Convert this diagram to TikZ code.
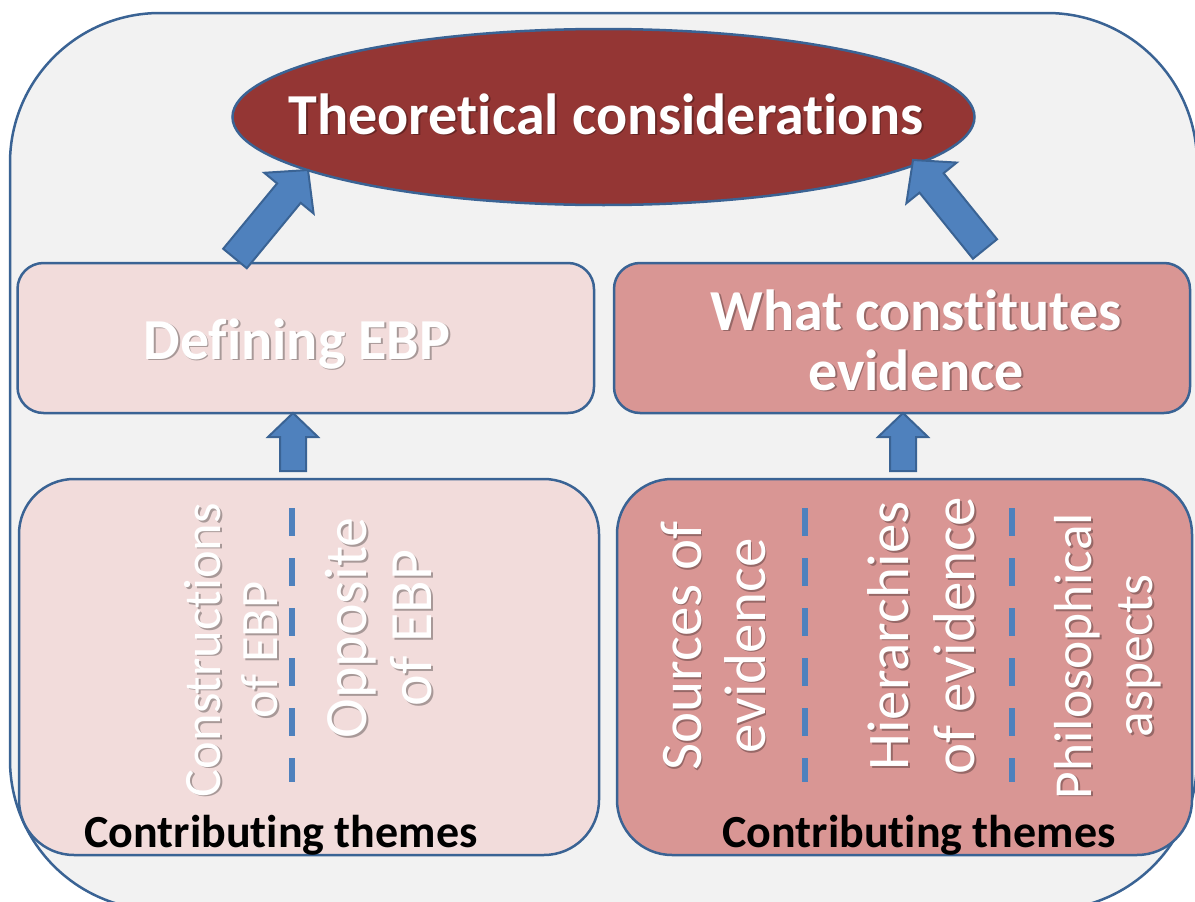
\documentclass[tikz,border=0pt]{standalone}
\usepackage{fontspec}
\setmainfont{Carlito}[Ligatures=NoCommon]
\usetikzlibrary{calc,shapes.geometric}

\definecolor{frame}{HTML}{3A6394}
\definecolor{panel}{HTML}{F2F2F2}
\definecolor{wine}{HTML}{943634}
\definecolor{blush}{HTML}{F2DCDB}
\definecolor{rose}{HTML}{D99694}
\definecolor{steel}{HTML}{4F81BD}

\tikzset{
  x=1pt, y=-1pt,
  outline/.style={draw=frame, line width=2.5pt},
  panelbox/.style={outline, fill=#1, rounded corners=26pt, inner sep=0pt},
  themebox/.style={outline, fill=#1, rounded corners=55pt, inner sep=0pt},
  blockarrow/.style={draw=frame, line width=2pt, fill=steel, line join=miter},
  divider/.style={draw=steel, line width=6pt, dash pattern=on 28pt off 22pt},
  headfont/.style={font=\fontsize{58}{60}\selectfont\bfseries, inner sep=0pt, align=center},
  themefont/.style 2 args={font=\fontsize{#1}{#2}\selectfont, inner sep=0pt, align=center, rotate=90},
  notefont/.style={font=\fontsize{46}{46}\selectfont\bfseries, inner sep=0pt, text=black},
}

% white label with a soft drop shadow
\newcommand\glowlabel[4][]{%
  \node[xshift=1.8pt, yshift=-1.8pt, #1, text=black, text opacity=0.3] (#2-shadow) at (#3) {#4};
  \node[#1, text=white] (#2) at (#3) {#4};
}

% block arrow: name, tail, tip, half shaft width, half head width, head length
\newcommand\blockarrowpath[6]{%
  \coordinate (#1-b) at ($(#3)!#6!(#2)$);
  \draw[blockarrow] ($(#2)!#4!90:(#3)$) -- ($(#1-b)!#4!-90:(#2)$) -- ($(#1-b)!#5!-90:(#2)$)
    -- (#3) -- ($(#1-b)!#5!90:(#2)$) -- ($(#1-b)!#4!90:(#2)$) -- ($(#2)!#4!-90:(#3)$) -- cycle;
}

\begin{document}
\begin{tikzpicture}
\useasboundingbox (0,0) rectangle (1195,902);
\fill[white] (0,0) rectangle (1195,902);

% outer frame
\draw[outline, fill=panel, rounded corners=150pt] (10,13) rectangle (1197,910);

% top ellipse
\node[ellipse, outline, fill=wine, minimum width=742pt, minimum height=176pt, inner sep=0pt] (theory) at (603.5,117) {};

% middle boxes
\node[panelbox=blush, minimum width=576.5pt, minimum height=150pt] (define) at (305.75,338) {};
\node[panelbox=rose, minimum width=576pt, minimum height=150pt] (evidence) at (902,338) {};

% lower theme boxes
\node[themebox=blush, minimum width=580pt, minimum height=376pt] (themesL) at (309,667) {};
\node[themebox=rose, minimum width=575pt, minimum height=376pt] (themesR) at (904.5,667) {};

% arrows
\coordinate (a1t) at (235,258.5);
\coordinate (a1h) at (308,170);
\blockarrowpath{a1}{a1t}{a1h}{15.3pt}{32pt}{30pt}
\coordinate (a2t) at (985,249);
\coordinate (a2h) at (913,160);
\blockarrowpath{a2}{a2t}{a2h}{15.5pt}{32.4pt}{29.5pt}
\coordinate (a3t) at (293,471);
\coordinate (a3h) at (293,413);
\blockarrowpath{a3}{a3t}{a3h}{13pt}{25pt}{24pt}
\coordinate (a4t) at (903,471);
\coordinate (a4h) at (903,413);
\blockarrowpath{a4}{a4t}{a4h}{13pt}{25pt}{24pt}

% headings
\glowlabel[headfont, anchor=base]{theoryText}{606,134}{Theoretical considerations}
\glowlabel[headfont, anchor=base]{defineText}{297,359}{Defining EBP}
\glowlabel[headfont]{evidenceText}{916,340}{What constitutes\\evidence}

% rotated themes
\glowlabel[themefont={52.5}{57}]{constr}{231,650}{Constructions\\of EBP}
\glowlabel[themefont={60}{65}]{oppos}{379,628}{Opposite\\of EBP}
\glowlabel[themefont={59}{64}]{sources}{713,646}{Sources of\\evidence}
\glowlabel[themefont={59}{66}]{hier}{921,636}{Hierarchies\\of evidence}
\glowlabel[themefont={53.5}{61}]{philo}{1108,656}{Philosophical\\aspects}

% dividers
\coordinate (d1a) at (292,508); \coordinate (d1b) at (292,782);
\coordinate (d2a) at (805,508); \coordinate (d2b) at (805,782);
\coordinate (d3a) at (1012,508); \coordinate (d3b) at (1012,782);
\draw[divider] (d1a) -- (d1b);
\draw[divider] (d2a) -- (d2b);
\draw[divider] (d3a) -- (d3b);

% captions
\node[notefont, anchor=base] (capL) at (281,847) {Contributing themes};
\node[notefont, anchor=base] (capR) at (919,847) {Contributing themes};
\end{tikzpicture}
\end{document}
